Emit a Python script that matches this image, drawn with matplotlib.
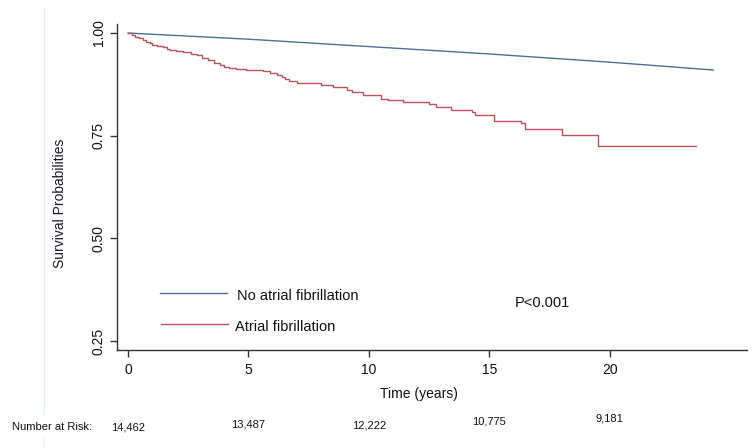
import matplotlib
matplotlib.use("Agg")
import matplotlib.pyplot as plt
from matplotlib.lines import Line2D
import matplotlib.transforms as mtransforms

# ---------------- data ----------------
no_af_time = [0, 5, 10, 15, 20, 24.3]
no_af_surv = [1.000, 0.985, 0.967, 0.949, 0.929, 0.910]

af_time = [0, 0.15, 0.3, 0.45, 0.6, 0.75, 0.9, 1.0, 1.2, 1.45, 1.6, 1.75, 2.0,
           2.3, 2.6, 2.85, 3.05, 3.3, 3.55, 3.8, 4.0, 4.2, 4.5, 4.9,
           5.2, 5.6, 5.9, 6.2, 6.4, 6.5, 6.7, 7.0, 8.0, 8.5, 9.1, 9.3, 9.75, 10.5, 10.8,
           11.4, 12.5, 12.8, 13.4, 14.3, 14.4, 15.2, 16.3, 16.5, 18.0, 19.5, 23.6]
af_surv = [1.000, 0.995, 0.991, 0.987, 0.983, 0.979, 0.975, 0.971, 0.968, 0.966,
           0.962, 0.959, 0.956, 0.954, 0.950, 0.946, 0.940, 0.934, 0.928, 0.922,
           0.918, 0.915, 0.912, 0.910,
           0.909, 0.907, 0.903, 0.898, 0.893, 0.889, 0.884, 0.878,
           0.873, 0.869, 0.861, 0.856, 0.849, 0.840, 0.837, 0.832, 0.827, 0.820,
           0.813, 0.808, 0.800, 0.786, 0.781, 0.766, 0.752, 0.725, 0.725]

series_labels = ["No atrial fibrillation", "Atrial fibrillation"]
x_ticks = [0, 5, 10, 15, 20]
y_ticks = [0.25, 0.50, 0.75, 1.00]
y_tick_labels = ["0.25", "0.50", "0.75", "1.00"]
risk_times = [0, 5, 10, 15, 20]
risk_counts = ["14,462", "13,487", "12,222", "10,775", "9,181"]
p_text = "P<0.001"

# ---------------- style ----------------
plt.rcParams['font.family'] = ['Liberation Sans', 'DejaVu Sans']
blue = '#4a6f95'
red = '#b8545b'
axis_col = '#333333'

fig = plt.figure(figsize=(7.52, 4.48), dpi=100)
W, H = 752, 448
ax = fig.add_axes([117 / W, 1 - 350 / H, (747 - 117) / W, (350 - 24) / H])

ax.plot(no_af_time, no_af_surv, color=blue, lw=1.0)
ax.step(af_time, af_surv, where='post', color=red, lw=1.0)

ax.set_xlim(-0.46, 25.7)
ax.set_ylim(0.228, 1.022)

ax.set_xticks(x_ticks)
ax.set_yticks(y_ticks)
ax.set_yticklabels(y_tick_labels, rotation=90, va='center')
ax.tick_params(axis='both', colors=axis_col, labelcolor='#111111', labelsize=10,
               length=5, width=1.0, direction='out')
ax.tick_params(axis='y', pad=3)
ax.tick_params(axis='x', pad=4)
for s in ['top', 'right']:
    ax.spines[s].set_visible(False)
for s in ['left', 'bottom']:
    ax.spines[s].set_color(axis_col)
    ax.spines[s].set_linewidth(1.0)

# axis labels
fig.text(419 / W, 1 - 394 / H, "Time (years)", ha='center', va='center',
         fontsize=10, color='#111111')
fig.text(60 / W, 1 - 203 / H, "Survival Probabilities", ha='center', va='center',
         rotation=90, fontsize=10, color='#1a1a2a')

# legend (inside plot)
fig.add_artist(Line2D([160 / W, 227 / W], [1 - 293 / H, 1 - 293 / H], color=blue, lw=1.0))
fig.add_artist(Line2D([161 / W, 228 / W], [1 - 324 / H, 1 - 324 / H], color=red, lw=1.0))
fig.text(237 / W, 1 - 296 / H, series_labels[0], ha='left', va='center',
         fontsize=10.5, color='#111111')
fig.text(235 / W, 1 - 327 / H, series_labels[1], ha='left', va='center',
         fontsize=10.5, color='#111111')

fig.text(542 / W, 1 - 303 / H, p_text, ha='center', va='center',
         fontsize=10.5, color='#111111')

# number at risk
fig.text(12 / W, 1 - 427 / H, "Number at Risk:", ha='left', va='center',
         fontsize=8, color='#111111')
trans = mtransforms.blended_transform_factory(ax.transData, fig.transFigure)
risk_y_px = [427, 424, 425, 421, 418]
for t, c, ypx in zip(risk_times, risk_counts, risk_y_px):
    ax.text(t, 1 - ypx / H, c, transform=trans, ha='center', va='center',
            fontsize=8, color='#111111', clip_on=False)

# faint vertical line artifact
fig.add_artist(Line2D([44 / W, 44 / W], [1 - 8 / H, 1 - 414 / H], color='#e2f0f5', lw=1.0))
fig.add_artist(Line2D([44 / W, 44 / W], [1 - 436 / H, 1 - 446 / H], color='#e2f0f5', lw=1.0))

fig.savefig("out.png", dpi=100)
